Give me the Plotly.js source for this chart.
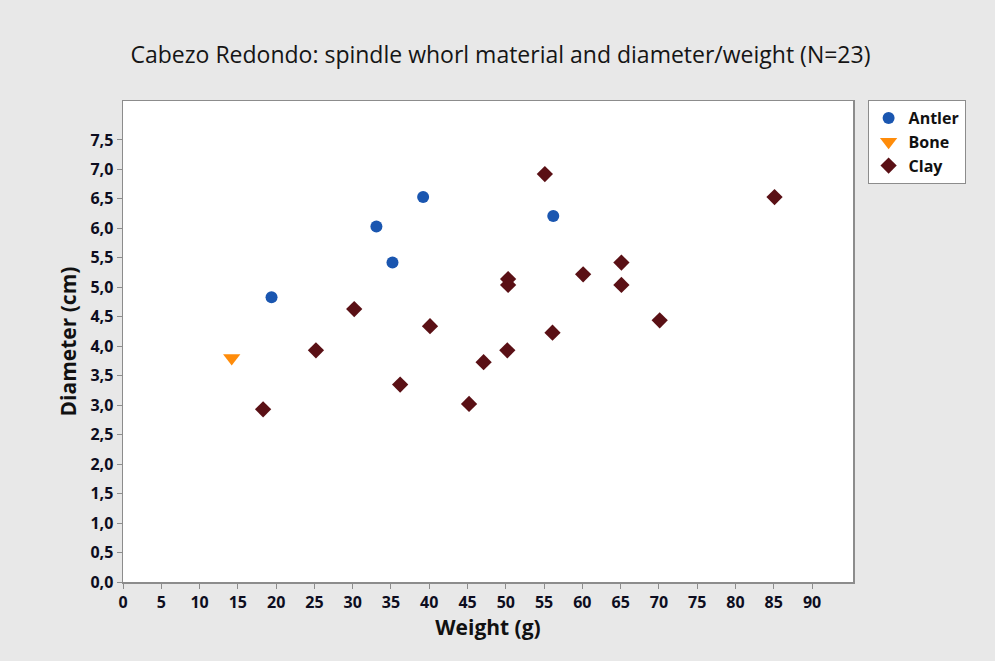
<!DOCTYPE html>
<html>
<head>
<meta charset="utf-8">
<script src="https://cdn.plot.ly/plotly-3.0.1.min.js"></script>
<style>html,body{margin:0;padding:0;background:#e8e8e8;}#chart{width:995px;height:661px;}</style>
</head>
<body>
<div id="chart"></div>
<script>
// Data
const antlerWeight = [19.4, 33.1, 35.2, 39.2, 56.2];
const antlerDiameter = [4.83, 6.03, 5.42, 6.53, 6.21];

const boneWeight = [14.2];
const boneDiameter = [3.8];

const clayWeight = [18.3, 25.2, 30.2, 36.2, 40.1, 45.2, 47.1, 50.2, 50.3, 50.3, 55.1, 56.1, 60.1, 65.1, 65.1, 70.1, 85.1];
const clayDiameter = [2.93, 3.93, 4.63, 3.35, 4.34, 3.02, 3.73, 3.93, 5.04, 5.14, 6.92, 4.23, 5.22, 5.42, 5.04, 4.44, 6.53];

const xTicks = [0,5,10,15,20,25,30,35,40,45,50,55,60,65,70,75,80,85,90];
const yTicks = [0,0.5,1,1.5,2,2.5,3,3.5,4,4.5,5,5.5,6,6.5,7,7.5];

const fontFam = '"Open Sans", "Noto Sans", sans-serif';

const traces = [
  {x: antlerWeight, y: antlerDiameter, name: 'Antler', type: 'scatter', mode: 'markers',
   marker: {symbol: 'circle', size: 12, color: '#1a56b0', line: {width: 0}}},
  {x: boneWeight, y: boneDiameter, name: 'Bone', type: 'scatter', mode: 'markers',
   marker: {symbol: 'triangle-down', size: 15, color: '#ff8c0a', line: {width: 0}}},
  {x: clayWeight, y: clayDiameter, name: 'Clay', type: 'scatter', mode: 'markers',
   marker: {symbol: 'diamond', size: 12.5, color: '#5a1015', line: {width: 0}}}
];

const layout = {
  width: 995, height: 661,
  paper_bgcolor: '#e8e8e8',
  plot_bgcolor: '#ffffff',
  separators: ', ',
  margin: {l: 123, r: 142, t: 101, b: 79, pad: 0},
  font: {family: fontFam, color: '#111111'},
  title: {text: 'Cabezo Redondo: spindle whorl material and diameter/weight (N=23)',
          font: {family: fontFam, size: 23, weight: 500, color: '#151515'},
          x: 0.503, xanchor: 'center', y: 0.917, yanchor: 'middle'},
  xaxis: {
    range: [0, 95.35], tickvals: xTicks, ticktext: xTicks.map(String),
    showgrid: false, zeroline: false,
    showline: true, mirror: true, linecolor: '#8c8c8c', linewidth: 1.5,
    ticks: 'outside', ticklen: 5, tickcolor: '#8c8c8c', tickwidth: 1,
    tickfont: {family: fontFam, size: 16, weight: 'bold', color: '#0d0d20'},
    title: {text: 'Weight (g)', font: {family: fontFam, size: 21, weight: 'bold', color: '#111111'}, standoff: 8}
  },
  yaxis: {
    range: [0, 8.16], tickvals: yTicks, tickformat: '.1f',
    showgrid: false, zeroline: false,
    showline: true, mirror: true, linecolor: '#8c8c8c', linewidth: 1.5,
    ticks: 'outside', ticklen: 5, tickcolor: '#8c8c8c', tickwidth: 1,
    tickfont: {family: fontFam, size: 16, weight: 'bold', color: '#0d0d20'},
    title: {text: 'Diameter (cm)', font: {family: fontFam, size: 21, weight: 'bold', color: '#111111'}, standoff: 8}
  },
  legend: {
    x: 1.02, xanchor: 'left', y: 1.002, yanchor: 'top',
    bgcolor: '#ffffff', bordercolor: '#8c8c8c', borderwidth: 1,
    font: {family: fontFam, size: 16, weight: 'bold', color: '#111111'},
    tracegroupgap: 0, itemwidth: 30
  },
  showlegend: true
};

Plotly.newPlot('chart', traces, layout, {displayModeBar: false, staticPlot: true});
</script>
</body>
</html>
